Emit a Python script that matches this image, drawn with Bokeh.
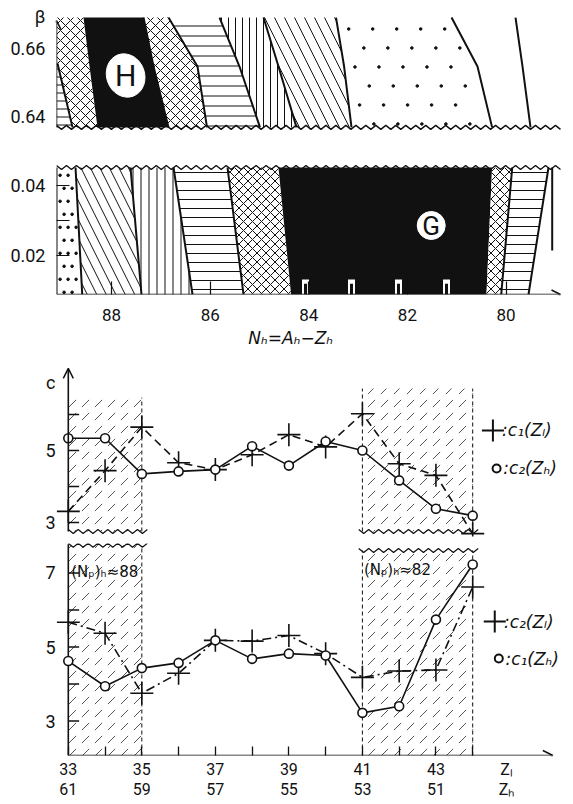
import numpy as np
from bokeh.plotting import figure
from bokeh.models import Range1d, FixedTicker, Arrow, OpenHead
from bokeh.layouts import column
from bokeh.embed import file_html
from bokeh.resources import INLINE
from bokeh.core.properties import value

INK = "#111111"
FONT = "Roboto"
SUB = "DejaVu Sans"
W = 573

# ---------------- phase diagram data ----------------
N_TICKS = [88, 86, 84, 82, 80]
N_AXIS = 89.118
N_END = 78.895
N_FRAME_END = 78.631
PX_N = 49.3          # pixels per unit of N (used only for screen-size decorations)

# upper panel (beta near 0.65): boundaries read at three beta levels
BETA_A_TICKS = [0.64, 0.66]
BETA_LABEL_POS = 0.6694
BETA_A = [0.6691, 0.6547, 0.6368]
A0_N = [89.097, 88.793]
A0_BETA = [0.6556, 0.6368]
A1_N = [88.570, 88.448, 88.286]
A2_N = [87.353, 87.150, 86.846]
A3_N = [86.846, 86.258, 86.065]
A4_N = [85.811, 85.406, 84.990]
A5_N = [84.919, 84.615, 84.249]
A6_N = [83.448, 83.284, 83.134]
A7_N = [81.105, 80.578, 80.282]
A8_N = [79.807, 79.665, 79.503]
H_POS = (87.716, 0.65206)

# lower panel (small beta): boundaries read at top and bottom
BETA_B_TICKS = [0.02, 0.03, 0.04]
BETA_B = [0.045143, 0.008857]
B1_N = [88.732, 88.596]
B2_N = [87.617, 87.394]
B3_N = [86.744, 86.359]
B4_N = [85.649, 85.325]
B5_N = [84.615, 84.359]
B6_N = [80.282, 80.396]
B7_N = [79.874, 80.097]
B8_N = [79.138, 79.544]
B_EDGE_N = 79.063
G_POS = (81.517, 0.02857)
G_NOTCH_N = [84.067, 83.134, 82.181, 81.207]

# ---------------- c-value data ----------------
Z = [33, 34, 35, 36, 37, 38, 39, 40, 41, 42, 43, 44]
C1_ZL_TOP = [3.31, 4.44, 5.65, 4.66, 4.47, 4.88, 5.44, 5.10, 6.02, 4.63, 4.31, 2.69]
C2_ZH_TOP = [5.34, 5.34, 4.35, 4.42, 4.47, 5.12, 4.58, 5.25, 5.00, 4.17, 3.38, 3.19]
C2_ZL_BOT = [5.67, 5.37, 3.75, 4.29, 5.18, 5.16, 5.31, 4.82, 4.18, 4.35, 4.38, 6.62]
C1_ZH_BOT = [4.62, 3.94, 4.43, 4.57, 5.18, 4.68, 4.82, 4.77, 3.22, 3.40, 5.74, 7.23]
ZL_LABELS = [33, 35, 37, 39, 41, 43]
ZH_LABELS = [61, 59, 57, 55, 53, 51]
Z_NAME_POS = 44.92
C_TICKS = [3, 4, 5, 6]
C_LABELS = [3, 5]
C_NAME_POS = 6.89
D_TICKS = [3, 4, 5, 6, 7]
D_LABELS = [3, 5, 7]
ZONES = [(33, 35), (41, 44)]
ZONE_TOP_C = [6.47, 6.72]
ZONE_BOTTOM_C = 2.75
ZONE_TOP_D = [7.75, 7.61]
PX_Z = 37.33
Z_FRAME = (32.679, 46.742)


def zigzag(x0, x1, y, period, amp):
    n = max(2, int(round(abs(x1 - x0) / (period / 2.0))))
    xs = np.linspace(x0, x1, n + 1)
    ys = y + amp * np.where(np.arange(n + 1) % 2 == 0, 1.0, -1.0)
    return xs, ys


def band(left, right, levels):
    xs = list(left) + list(right)[::-1]
    ys = list(levels) + list(levels)[::-1]
    return xs, ys


def dot_texture(left, right, levels, dx, dy):
    """regular staggered dot texture between two boundaries (decoration)"""
    lv = np.array(levels)[::-1]
    l_arr = np.array(left)[::-1]
    r_arr = np.array(right)[::-1]
    xs, ys = [], []
    rows = np.arange(levels[0] - dy * 0.6, levels[-1], -dy)
    for i, b in enumerate(rows):
        lx = np.interp(b, lv, l_arr)
        rx = np.interp(b, lv, r_arr)
        k = lx - dx * (0.45 + 0.5 * (i % 2))
        while k > rx + dx * 0.3:
            xs.append(k)
            ys.append(b)
            k -= dx
    return xs, ys


HATCH_SCALE = {"x": 10, "-": 10, "|": 7, "\\": 20}


def fill_band(p, xs, ys, pat, scale=None):
    if pat == "black":
        p.patch(xs, ys, fill_color=INK, line_color=None)
    elif pat is None or pat == ".":
        p.patch(xs, ys, fill_color="white", line_color=None)
    else:
        p.patch(xs, ys, fill_color="white", line_color=None, hatch_pattern=pat,
                hatch_color=INK, hatch_scale=scale or HATCH_SCALE[pat], hatch_weight=1.0)


def base_fig(h, left, top, bottom, xr, yr):
    p = figure(width=W, height=h, output_backend="svg", toolbar_location=None,
               x_range=xr, y_range=yr, min_border_left=left, min_border_right=0,
               min_border_top=top, min_border_bottom=bottom)
    p.xgrid.visible = False
    p.ygrid.visible = False
    p.outline_line_color = None
    p.background_fill_color = "white"
    for ax in (p.xaxis[0], p.yaxis[0]):
        ax.axis_line_color = None
        ax.minor_tick_line_color = None
        ax.major_tick_out = 0
        ax.major_label_text_font = FONT
        ax.major_label_text_font_size = "18px"
        ax.major_label_text_color = INK
        ax.major_tick_line_color = INK
        ax.major_tick_line_width = 1.2
    return p


# ================= panel A =================
pA = base_fig(131, 56, 0, 0, Range1d(N_AXIS, N_FRAME_END), Range1d(0.635588, 0.674118))
pA.xaxis.visible = False
pA.yaxis.ticker = FixedTicker(ticks=BETA_A_TICKS + [BETA_LABEL_POS])
pA.yaxis.major_label_overrides = {t: f"{t:.2f}" for t in BETA_A_TICKS} | {BETA_LABEL_POS: "β"}
pA.yaxis.major_tick_line_color = None
pA.yaxis.major_label_standoff = 11

regions_A = [([N_AXIS] * 3, A1_N, "x"), (A1_N, A2_N, "black"), (A2_N, A3_N, "x"),
             (A3_N, A4_N, "-"), (A4_N, A5_N, "|"), (A5_N, A6_N, "\\"),
             (A6_N, A7_N, "."), (A7_N, A8_N, None), (A8_N, [N_END] * 3, None)]
for l, r, pat in regions_A:
    xs, ys = band(l, r, BETA_A)
    fill_band(pA, xs, ys, pat)
dx, dy = dot_texture(A6_N, A7_N, BETA_A, 24 / PX_N, 19 / 3400)
pA.scatter(dx, dy, size=2.6, color=INK)
sx = [N_AXIS, A0_N[0], A0_N[1], N_AXIS]
sy = [A0_BETA[0], A0_BETA[0], A0_BETA[1], A0_BETA[1]]
fill_band(pA, sx, sy, "-", 8)
pA.multi_line(xs=[A0_N, A2_N, A3_N, A4_N, A5_N, A6_N, A7_N, A8_N],
              ys=[A0_BETA] + [BETA_A] * 7, line_color=INK, line_width=2)
pA.ellipse(x=[H_POS[0]], y=[H_POS[1]], width=38, height=44, width_units="screen",
           height_units="screen", angle=0.35, fill_color="white", line_color="white")
pA.text(x=[H_POS[0]], y=[H_POS[1]], text=["H"], text_font=value(FONT), text_font_size="30px",
        text_align="center", text_baseline="middle", text_color=INK)
zx, zy = zigzag(N_AXIS, N_END, BETA_A[2], 10 / PX_N, 2 / 3400)
pA.line(zx, zy, line_color=INK, line_width=1.4)
pA.add_layout(Arrow(end=OpenHead(size=9, line_color=INK, line_width=1.5),
                    x_start=N_AXIS, y_start=BETA_A[2], x_end=N_AXIS, y_end=0.6682,
                    line_color=INK, line_width=1.6))

# ================= panel B =================
pB = base_fig(226, 56, 29, 63, Range1d(N_AXIS, N_FRAME_END), Range1d(BETA_B[1], 0.047143))
pB.xaxis.ticker = FixedTicker(ticks=N_TICKS)
pB.xaxis.major_tick_in = 13
pB.xaxis.major_label_standoff = 14
pB.xaxis.major_label_text_font_size = "17px"
pB.xaxis.axis_label = "Nₕ=Aₕ−Zₕ" + "\u00a0" * 9
pB.xaxis.axis_label_text_font = SUB
pB.xaxis.axis_label_text_font_style = "italic"
pB.xaxis.axis_label_text_font_size = "17px"
pB.xaxis.axis_label_text_color = INK
pB.xaxis.axis_label_standoff = 4
pB.yaxis.ticker = FixedTicker(ticks=BETA_B_TICKS)
pB.yaxis.major_label_overrides = {0.02: "0.02", 0.03: "", 0.04: "0.04"}
pB.yaxis.major_tick_in = 13
pB.yaxis.major_label_standoff = 11

regions_B = [([N_AXIS] * 2, B1_N, "."), (B1_N, B2_N, "\\"), (B2_N, B3_N, "|"),
             (B3_N, B4_N, "-"), (B4_N, B5_N, "x"), (B5_N, B6_N, "black"),
             (B6_N, B7_N, "x"), (B7_N, B8_N, "-"), (B8_N, [N_END] * 2, None)]
for l, r, pat in regions_B:
    xs, ys = band(l, r, BETA_B)
    sc = {"-": 9, "x": 9, "\\": 19, "|": 8}.get(pat)
    fill_band(pB, xs, ys, pat, sc)
dx, dy = dot_texture([N_AXIS] * 2, B1_N, BETA_B, 8 / PX_N, 13 / 3500)
pB.scatter(dx, dy, size=2.6, color=INK)
pB.multi_line(xs=[B1_N, B2_N, B3_N, B4_N, B7_N, B8_N, [B_EDGE_N, B_EDGE_N], [N_AXIS, N_AXIS]],
              ys=[BETA_B] * 6 + [[BETA_B[0], 0.0214], BETA_B], line_color=INK, line_width=2)
pB.rect(x=G_NOTCH_N, y=[0.0110] * 4, width=7, width_units="screen", height=0.0043,
        fill_color="white", line_color=None)
pB.rect(x=G_NOTCH_N, y=[0.0104] * 4, width=3, width_units="screen", height=0.0031,
        fill_color=INK, line_color=None)
pB.circle(x=[G_POS[0]], y=[G_POS[1]], radius=14, radius_units="screen",
          fill_color="white", line_color="white")
pB.text(x=[G_POS[0]], y=[G_POS[1]], text=["G"], text_font=value(FONT), text_font_size="26px",
        text_align="center", text_baseline="middle", text_color=INK)
zx, zy = zigzag(N_AXIS, N_END, BETA_B[0], 10 / PX_N, 2 / 3500)
pB.line(zx, zy, line_color=INK, line_width=1.4)
pB.add_layout(Arrow(end=OpenHead(size=9, line_color=INK, line_width=1.5),
                    x_start=N_AXIS, y_start=BETA_B[1], x_end=N_END, y_end=BETA_B[1],
                    line_color=INK, line_width=1.6))


# ================= c panels =================
def c_panel(h, top, bottom, yr, ticks, labels, extra=None):
    p = base_fig(h, 48, top, bottom, Range1d(*Z_FRAME), yr)
    tk = list(labels) + ([extra[0]] if extra else [])
    p.yaxis.ticker = FixedTicker(ticks=tk)
    ov = {t: str(t) for t in labels}
    if extra:
        ov[extra[0]] = extra[1]
    p.yaxis.major_label_overrides = ov
    p.yaxis.major_tick_line_color = None
    p.yaxis.major_label_standoff = 1
    # inward tick marks on the axis at Z = 33
    p.segment(x0=[33] * len(ticks), y0=ticks, x1=[33 + 11 / PX_Z] * len(ticks), y1=ticks,
              line_color=INK, line_width=1.3)
    return p


def draw_zones(p, tops, bottom, wave_at_top, wave_amp):
    for (z0, z1), t in zip(ZONES, tops):
        p.quad(left=[z0], right=[z1], bottom=[bottom], top=[t], fill_alpha=0,
               line_color=None, hatch_pattern=",", hatch_scale=13, hatch_color=INK,
               hatch_weight=0.9, hatch_alpha=0.8)
        xs = [z1] if z0 == 33 else [z0, z1]
        p.segment(x0=xs, y0=[bottom] * len(xs), x1=xs, y1=[t] * len(xs),
                  line_color=INK, line_width=1, line_dash="4 3")
        wy = t if wave_at_top else bottom
        zx, zy = zigzag(z0 - (0 if z0 == 33 else 0.1), z1 + 0.15, wy, 10 / PX_Z, wave_amp)
        p.line(zx, zy, line_color=INK, line_width=1.2)


def draw_series(p, yc, yo, dash):
    p.line(Z, yc, line_color=INK, line_width=1.6, line_dash=dash)
    p.line(Z, yo, line_color=INK, line_width=1.6)
    p.scatter(Z, yc, marker="cross", size=23, line_color=INK, line_width=1.6)
    p.scatter(Z, yo, marker="circle", size=9, fill_color="white", line_color=INK, line_width=1.6)


def legend(p, xc, yc, xo, yo, tc, to):
    p.scatter([xc], [yc], marker="cross", size=22, line_color=INK, line_width=2)
    p.scatter([xo], [yo], marker="circle", size=8, fill_color="white", line_color=INK, line_width=2)
    p.text(x=[xc + 0.25, xo + 0.18], y=[yc, yo], text=[tc, to], text_font=value(SUB),
           text_font_style="italic", text_font_size="17px", text_baseline="middle",
           text_color=INK)


pC = c_panel(180, 9, 1, Range1d(2.6111, 7.3333), C_TICKS, C_LABELS, (C_NAME_POS, "c"))
pC.xaxis.visible = False
draw_zones(pC, ZONE_TOP_C, ZONE_BOTTOM_C, False, 2 / 36)
pC.add_layout(Arrow(end=OpenHead(size=10, line_color=INK, line_width=1.5),
                    x_start=33, y_start=ZONE_BOTTOM_C, x_end=33, y_end=7.28,
                    line_color=INK, line_width=1.6))
draw_series(pC, C1_ZL_TOP, C2_ZH_TOP, "8 5")
legend(pC, 44.55, 5.556, 44.65, 4.5, ":c₁(Zₗ)", ":c₂(Zₕ)")

D_BOTTOM = 2.068
pD = c_panel(267, 6, 49, Range1d(D_BOTTOM, 7.797), D_TICKS, D_LABELS)
pD.segment(x0=[33], y0=[D_BOTTOM], x1=[33], y1=[7.78], line_color=INK, line_width=1.6)
xt = ZL_LABELS + [Z_NAME_POS]
pD.xaxis.ticker = FixedTicker(ticks=xt, minor_ticks=Z)
ov = {zl: f"{zl}\n{zh}" for zl, zh in zip(ZL_LABELS, ZH_LABELS)}
ov[Z_NAME_POS] = "Zₗ\nZₕ"
pD.xaxis.major_label_overrides = ov
pD.xaxis.major_tick_line_color = None
pD.xaxis.minor_tick_line_color = INK
pD.xaxis.minor_tick_line_width = 1.3
pD.xaxis.minor_tick_in = 9
pD.xaxis.minor_tick_out = 0
pD.xaxis.major_label_standoff = 4
pD.xaxis.major_label_text_font_size = "16px"
pD.xaxis.major_label_text_line_height = 1.1
draw_zones(pD, ZONE_TOP_D, D_BOTTOM, True, 2 / 37)
pD.add_layout(Arrow(end=OpenHead(size=10, line_color=INK, line_width=1.5),
                    x_start=33, y_start=D_BOTTOM, x_end=46.18, y_end=D_BOTTOM,
                    line_color=INK, line_width=1.6))
draw_series(pD, C2_ZL_BOT, C1_ZH_BOT, "9 4 2 4")
legend(pD, 44.60, 5.689, 44.71, 4.689, ":c₂(Zₗ)", ":c₁(Zₕ)")
pD.text(x=[33.08, 41.04], y=[7.04, 7.09], text=["(Nₚ)ₕ≈88", "(Nₚ)ₕ≈82"],
        text_font=value(SUB), text_font_size="15px", text_baseline="middle", text_color=INK)

layout = column(pA, pB, pC, pD, spacing=0)
open("out.html", "w").write(file_html(layout, INLINE))
